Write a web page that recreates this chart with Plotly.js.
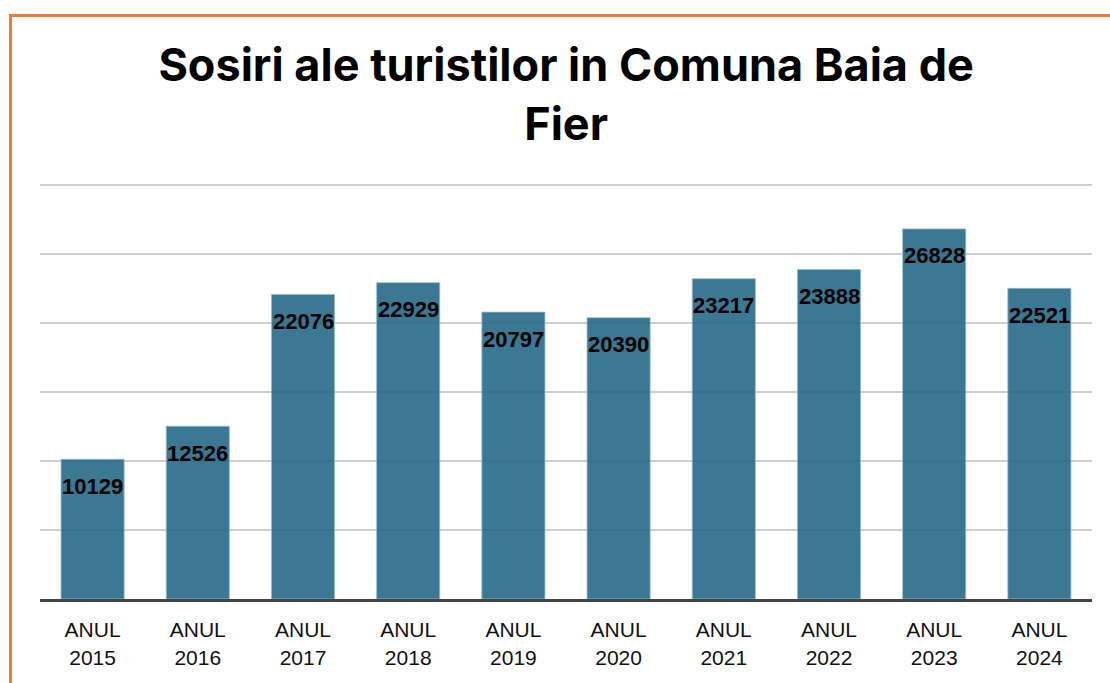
<!DOCTYPE html>
<html>
<head>
<meta charset="utf-8">
<script src="https://cdn.plot.ly/plotly-3.0.1.min.js"></script>
<style>
  html, body { margin: 0; padding: 0; background: #ffffff; }
  #chart { width: 1110px; height: 683px; }
</style>
</head>
<body>
<div id="chart"></div>
<script>
const categories = ["ANUL<br>2015", "ANUL<br>2016", "ANUL<br>2017", "ANUL<br>2018", "ANUL<br>2019",
                    "ANUL<br>2020", "ANUL<br>2021", "ANUL<br>2022", "ANUL<br>2023", "ANUL<br>2024"];
const arrivals = [10129, 12526, 22076, 22929, 20797, 20390, 23217, 23888, 26828, 22521];
const titleText = "Sosiri ale turistilor in Comuna Baia de<br>Fier";

const W = 1110, H = 683;
const margin = {l: 40, r: 18, t: 181, b: 84};
const plotW = W - margin.l - margin.r;
const plotH = H - margin.t - margin.b;
// orange frame (pixel positions converted to paper coords)
const px = x => (x - margin.l) / plotW;
const py = y => (H - margin.b - y) / plotH;

const trace = {
  type: "bar",
  x: categories,
  y: arrivals,
  width: 0.6,
  marker: {color: "rgba(31,101,133,0.88)", line: {color: "rgba(150,190,210,0.8)", width: 1}},
  hoverinfo: "x+y"
};

const annotations = categories.map((c, i) => ({
  x: c, y: arrivals[i], xref: "x", yref: "y",
  text: String(arrivals[i]), showarrow: false,
  yanchor: "middle", yshift: -27,
  font: {family: "Liberation Sans, Arial, sans-serif", size: 22, color: "#000000", weight: "bold"}
}));

const layout = {
  width: W, height: H,
  margin: margin,
  paper_bgcolor: "#ffffff",
  plot_bgcolor: "#ffffff",
  showlegend: false,
  title: {
    text: "<b>" + titleText + "</b>",
    font: {family: "Inter, sans-serif", size: 45, color: "#000000"},
    x: 0.51, xanchor: "center",
    y: 1 - 81 / H, yanchor: "top", yref: "container"
  },
  xaxis: {
    type: "category",
    showgrid: false,
    showline: true, linecolor: "#444444", linewidth: 3,
    ticks: "", ticklabelstandoff: 10,
    tickfont: {family: "Liberation Sans, Arial, sans-serif", size: 21, color: "#111111"},
    fixedrange: true
  },
  yaxis: {
    range: [0, 30300],
    dtick: 5000,
    showticklabels: false,
    showgrid: true, gridcolor: "#cfcfcf", gridwidth: 1.5,
    zeroline: false,
    fixedrange: true
  },
  annotations: annotations,
  shapes: [
    {type: "line", xref: "paper", yref: "paper", x0: px(9), x1: px(1110), y0: py(15.5), y1: py(15.5),
     line: {color: "#EE7A3B", width: 3}},
    {type: "line", xref: "paper", yref: "paper", x0: px(10.5), x1: px(10.5), y0: py(14), y1: py(683),
     line: {color: "#EE7A3B", width: 3}}
  ]
};

Plotly.newPlot("chart", [trace], layout, {displayModeBar: false, responsive: false});
</script>
</body>
</html>
